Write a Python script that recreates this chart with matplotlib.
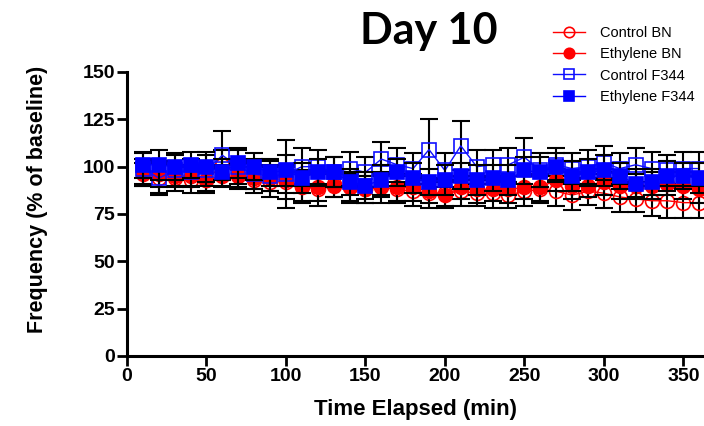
import matplotlib
matplotlib.use("Agg")
import matplotlib.pyplot as plt
import numpy as np

time_min = list(range(10, 370, 10))

control_bn = [97, 94, 94, 93, 93, 101, 96, 93, 92, 92, 90, 88, 91, 89, 88, 89, 88, 87, 86, 86,
              87, 86, 86, 85, 87, 88, 87, 85, 87, 86, 84, 83, 82, 82, 81, 81]
control_bn_err = [7, 8, 7, 7, 6, 8, 7, 7, 8, 9, 8, 9, 7, 8, 7, 8, 7, 8, 8, 7,
                  8, 7, 8, 7, 8, 7, 8, 8, 7, 8, 8, 7, 8, 9, 8, 8]

ethylene_bn = [96, 96, 95, 95, 93, 95, 95, 94, 94, 93, 89, 89, 90, 89, 88, 90, 89, 89, 87, 85,
               89, 88, 88, 88, 89, 89, 93, 90, 90, 92, 90, 90, 90, 91, 90, 88]
ethylene_bn_err = [6, 7, 6, 6, 7, 6, 7, 6, 7, 7, 8, 7, 6, 7, 7, 6, 7, 7, 6, 7,
                   6, 7, 6, 7, 6, 7, 6, 7, 6, 7, 7, 6, 7, 6, 7, 7]

control_f344 = [99, 94, 98, 97, 98, 106, 100, 96, 95, 96, 100, 100, 97, 99, 97, 104, 101, 99, 109, 98,
                111, 100, 101, 101, 105, 98, 101, 99, 100, 102, 99, 101, 99, 98, 99, 99]
control_f344_err = [8, 9, 8, 7, 8, 13, 9, 8, 8, 18, 10, 9, 8, 9, 8, 9, 9, 8, 16, 9,
                    13, 9, 8, 9, 10, 9, 9, 8, 9, 9, 8, 9, 9, 8, 9, 9]

ethylene_f344 = [101, 101, 100, 101, 100, 97, 102, 100, 97, 98, 94, 97, 97, 92, 90, 93, 97, 94, 92, 93,
                 95, 93, 94, 93, 98, 97, 100, 95, 97, 98, 95, 91, 92, 95, 95, 94]
ethylene_f344_err = [7, 8, 7, 7, 8, 7, 8, 7, 7, 8, 8, 7, 8, 7, 7, 8, 7, 8, 7, 8,
                     7, 8, 7, 8, 7, 8, 7, 8, 7, 8, 7, 8, 7, 8, 7, 8]

series = [
    ("Control BN", control_bn, control_bn_err, "red", "o", "none"),
    ("Ethylene BN", ethylene_bn, ethylene_bn_err, "red", "o", "red"),
    ("Control F344", control_f344, control_f344_err, "#1010ff", "s", "none"),
    ("Ethylene F344", ethylene_f344, ethylene_f344_err, "#0000ff", "s", "#0000ff"),
]

W, H = 704, 426
fig = plt.figure(figsize=(W / 100, H / 100), dpi=100)
ax = fig.add_axes([127 / W, 1 - 356 / H, (W - 127) / W, (356 - 72) / H])

handles = []
for i, (label, vals, errs, color, marker, face) in enumerate(series):
    z = 2 + i * 2
    ax.errorbar(time_min, vals, yerr=errs, fmt="none", ecolor="black",
                elinewidth=1.5, capsize=6.5, capthick=1.5, zorder=z)
    (ln,) = ax.plot(time_min, vals, color=color, lw=1.0, marker=marker,
                    markersize=10, markerfacecolor=face, markeredgecolor=color,
                    markeredgewidth=1.2, zorder=z + 1, label=label)
    handles.append(ln)

ax.set_xlim(0, 363)
ax.set_ylim(0, 150)
ax.set_xticks(np.arange(0, 351, 50))
ax.set_yticks(np.arange(0, 151, 25))
for s in ["top", "right"]:
    ax.spines[s].set_visible(False)
for s in ["left", "bottom"]:
    ax.spines[s].set_linewidth(2.2)
ax.tick_params(axis="both", width=2, length=7, labelsize=14, pad=1.5)
for lab in ax.get_xticklabels() + ax.get_yticklabels():
    lab.set_fontweight("bold")
    lab.set_fontfamily("Liberation Sans")

ax.set_xlabel("Time Elapsed (min)", fontsize=16, fontweight="bold",
              fontfamily="Liberation Sans", labelpad=10)
ax.set_ylabel("Frequency (% of baseline)", fontsize=15.5, fontweight="bold",
              fontfamily="Liberation Sans")
ax.yaxis.set_label_coords(-(127 - 48) / (W - 127), 0.55)

fig.text(429 / W, 1 - 31 / H, "Day 10", ha="center", va="center",
         fontsize=31, fontweight="bold", fontfamily="Lato")

leg = fig.legend(handles=handles, loc="upper left",
                 bbox_to_anchor=(553 / W, 1 - 26 / H), frameon=False,
                 prop={"family": "Liberation Sans", "size": 10.5},
                 handlelength=2.2, handletextpad=1.0, labelspacing=0.5,
                 borderpad=0, borderaxespad=0, markerscale=0.75)

fig.savefig("out.png", dpi=100)
